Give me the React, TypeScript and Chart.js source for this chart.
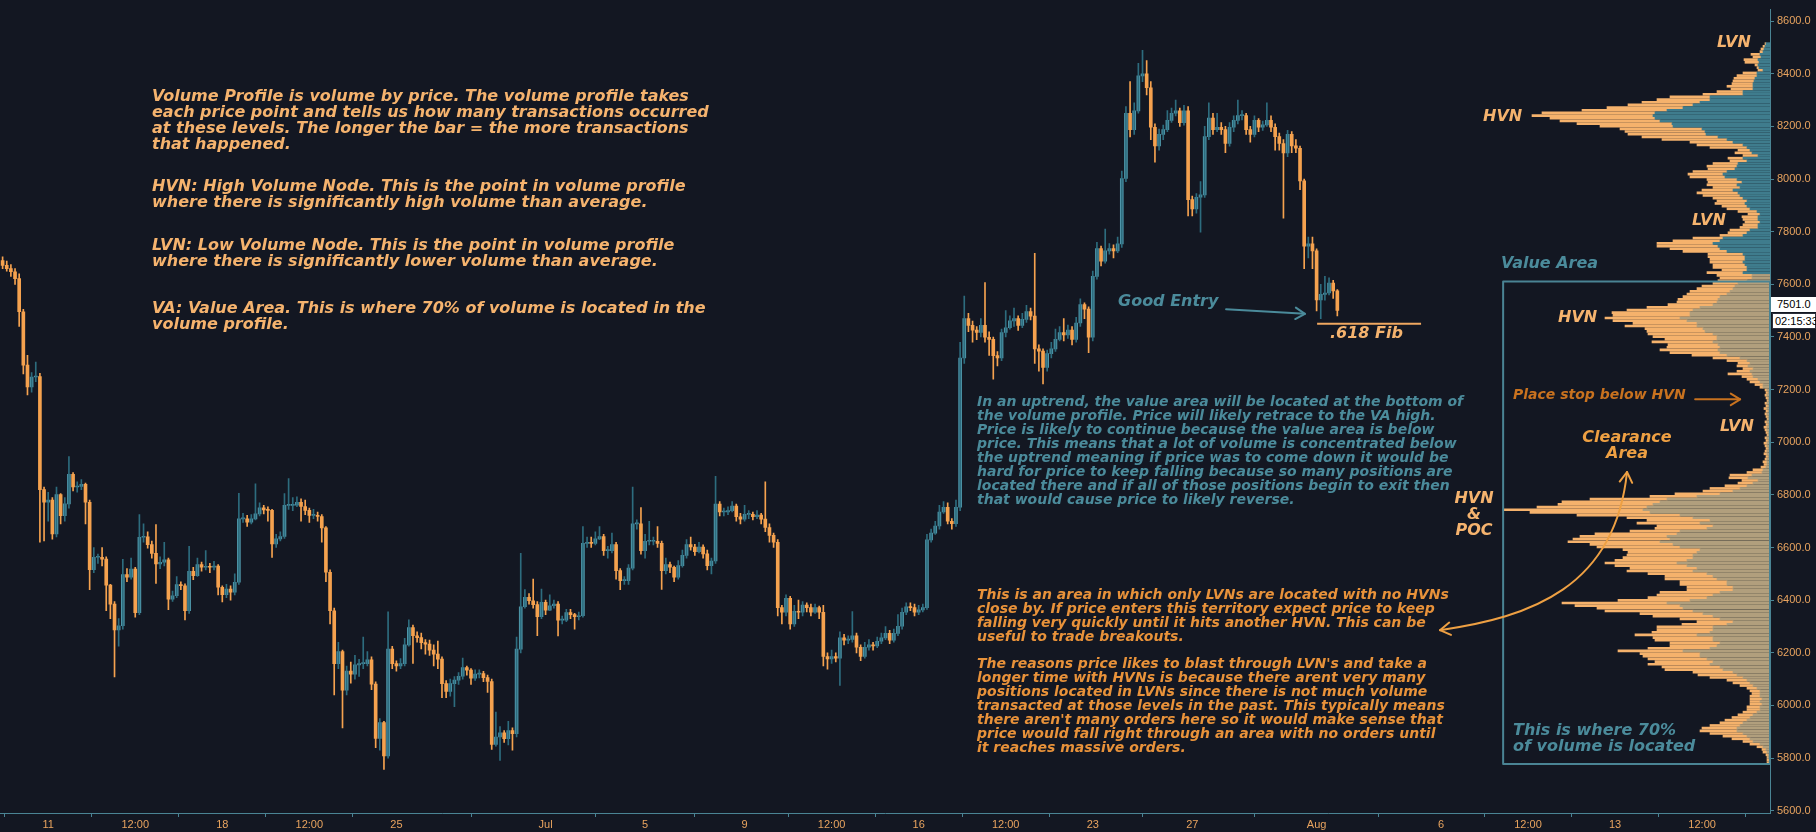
import React, { useEffect, useRef } from 'react';
import { Chart, registerables } from 'chart.js';

Chart.register(...registerables);

// ---------- DATA ----------
// 4h candles, first candle = Jun 9 04:00 ; x unit = days since Jun 11 00:00
const candleStartDay = -11 / 6;
const candleStepDay = 1 / 6;
const firstOpen = 7690;

const closes = [
  7672,7660,7648,7622,7496,7293,7210,7248,7250,6820,
  6772,6780,6652,6801,6721,6766,6878,6830,6832,6840,
  6772,6516,6563,6563,6556,6457,6385,6287,6303,6497,
  6487,6518,6353,6639,6641,6611,6578,6538,6544,6553,
  6404,6417,6459,6455,6360,6510,6493,6535,6525,6527,
  6525,6530,6449,6421,6442,6430,6468,6709,6709,6696,
  6709,6728,6751,6743,6741,6614,6633,6642,6760,6760,
  6761,6772,6756,6741,6722,6722,6718,6675,6506,6360,
  6159,6205,6058,6131,6119,6154,6159,6159,6173,6081,
  5875,5935,5808,6214,6159,6150,6159,6230,6296,6265,
  6258,6239,6233,6210,6195,6176,6083,6053,6083,6096,
  6111,6144,6134,6104,6119,6121,6106,6091,5852,5880,
  5896,5874,5905,5893,6214,6375,6411,6398,6383,6337,
  6392,6362,6379,6385,6324,6324,6353,6345,6337,6341,
  6616,6620,6616,6633,6642,6588,6588,6611,6512,6474,
  6474,6522,6690,6690,6588,6624,6624,6624,6616,6512,
  6535,6525,6487,6531,6570,6611,6602,6584,6602,6576,
  6531,6549,6765,6735,6735,6740,6758,6717,6708,6726,
  6726,6717,6723,6708,6676,6646,6620,6372,6354,6407,
  6310,6358,6354,6381,6372,6354,6372,6354,6186,6177,
  6186,6180,6257,6248,6251,6265,6221,6186,6221,6230,
  6226,6244,6257,6274,6248,6274,6301,6354,6375,6372,
  6354,6363,6372,6629,6655,6682,6735,6753,6700,6691,
  6753,7320,7470,7444,7426,7417,7444,7399,7391,7329,
  7320,7417,7435,7461,7470,7444,7467,7497,7479,7355,
  7346,7284,7337,7355,7391,7417,7408,7426,7391,7453,
  7523,7506,7399,7630,7736,7688,7727,7736,7727,7754,
  8002,8250,8188,8259,8392,8400,8347,8197,8126,8170,
  8188,8223,8250,8259,8214,8259,7922,7887,7931,7940,
  8161,8232,8188,8197,8188,8135,8197,8223,8241,8241,
  8188,8170,8223,8197,8206,8223,8197,8161,8135,8099,
  8170,8126,8117,7993,7745,7754,7727,7541,7562,7567,
  7605,7575,7501,
];

const highs = [
  7705,7688,7675,7660,7640,7505,7330,7265,7305,7262,
  6830,6810,6790,6830,6805,6790,6946,6885,6850,6858,
  6845,6780,6600,6575,6600,6565,6460,6395,6330,6555,
  6520,6560,6525,6725,6690,6660,6625,6687,6565,6620,
  6560,6435,6490,6470,6462,6605,6525,6560,6545,6588,
  6540,6548,6535,6455,6460,6455,6500,6806,6730,6722,
  6725,6842,6770,6760,6755,6745,6650,6660,6805,6862,
  6790,6793,6785,6780,6750,6745,6735,6725,6680,6515,
  6370,6240,6210,6150,6165,6190,6175,6260,6205,6185,
  6090,5950,5940,6356,6225,6170,6178,6255,6325,6305,
  6280,6275,6250,6248,6230,6245,6185,6095,6100,6110,
  6125,6180,6150,6140,6135,6135,6130,6115,6100,5975,
  5920,5905,5940,5915,6260,6578,6440,6425,6480,6395,
  6442,6400,6420,6400,6395,6340,6365,6365,6350,6355,
  6680,6640,6640,6660,6680,6650,6605,6655,6620,6520,
  6490,6535,6830,6705,6752,6650,6700,6640,6680,6625,
  6560,6545,6530,6550,6590,6630,6640,6612,6620,6610,
  6590,6560,6871,6775,6750,6755,6775,6765,6730,6760,
  6740,6735,6740,6730,6850,6690,6655,6630,6380,6420,
  6415,6380,6400,6395,6390,6385,6385,6378,6380,6200,
  6210,6200,6280,6270,6265,6357,6275,6230,6240,6250,
  6240,6260,6275,6300,6285,6290,6345,6370,6390,6390,
  6385,6380,6385,6650,6670,6700,6760,6775,6770,6710,
  6780,7380,7555,7490,7460,7440,7470,7607,7420,7400,
  7345,7430,7500,7480,7510,7480,7490,7520,7510,7718,
  7370,7355,7350,7380,7430,7440,7470,7445,7440,7475,
  7545,7530,7515,7650,7760,7745,7810,7755,7750,7780,
  8030,8275,8370,8290,8440,8489,8450,8370,8210,8190,
  8205,8260,8270,8300,8270,8280,8275,7935,7945,7990,
  8200,8290,8250,8250,8215,8200,8215,8240,8300,8260,
  8250,8200,8240,8230,8220,8290,8240,8210,8175,8150,
  8185,8180,8150,8125,8000,7780,7780,7735,7600,7630,
  7625,7615,7580,
];

const lows = [
  7660,7650,7630,7600,7440,7260,7180,7190,7230,6620,
  6625,6700,6632,6640,6690,6700,6750,6815,6810,6820,
  6690,6440,6505,6540,6530,6360,6330,6108,6225,6290,
  6470,6480,6335,6345,6620,6598,6560,6464,6520,6530,
  6364,6395,6410,6440,6325,6350,6478,6490,6510,6515,
  6505,6515,6420,6393,6410,6400,6420,6460,6695,6680,
  6690,6705,6720,6728,6700,6562,6600,6625,6635,6745,
  6740,6755,6700,6725,6695,6710,6700,6620,6470,6310,
  6040,6140,5915,6040,6085,6100,6110,6140,6150,6060,
  5840,5830,5757,5800,6140,6130,6140,6150,6225,6160,
  6240,6215,6195,6190,6150,6140,6030,6030,6035,5995,
  6080,6100,6115,6080,6095,6105,6090,6050,5833,5845,
  5791,5860,5850,5830,5880,6200,6370,6385,6370,6265,
  6330,6345,6360,6370,6264,6310,6318,6330,6290,6325,
  6335,6600,6600,6610,6630,6570,6560,6580,6480,6440,
  6460,6460,6515,6670,6575,6560,6610,6610,6600,6441,
  6500,6505,6470,6480,6525,6560,6590,6570,6580,6560,
  6515,6500,6540,6720,6720,6725,6735,6700,6690,6700,
  6710,6705,6710,6690,6660,6620,6600,6340,6310,6340,
  6290,6300,6330,6340,6355,6340,6350,6330,6150,6138,
  6160,6165,6076,6230,6235,6240,6200,6170,6180,6210,
  6210,6220,6235,6250,6235,6240,6265,6290,6345,6360,
  6340,6345,6355,6365,6620,6650,6670,6730,6690,6670,
  6680,6740,7300,7420,7380,7390,7400,7380,7330,7240,
  7290,7310,7400,7430,7440,7425,7435,7455,7465,7300,
  7270,7222,7270,7320,7345,7385,7385,7395,7370,7380,
  7440,7470,7340,7385,7620,7670,7680,7715,7700,7720,
  7740,7990,8160,8170,8250,8370,8320,8150,8064,8110,
  8150,8180,8215,8240,8200,8205,7860,7860,7870,7798,
  7930,8150,8170,8180,8170,8100,8125,8180,8210,8225,
  8170,8140,8160,8180,8185,8200,8180,8110,8110,7851,
  8085,8100,8100,7960,7660,7700,7660,7499,7470,7540,
  7560,7547,7480,
];

// x axis ticks (days since Jun 11 00:00)
const tickDays = [0, 3.5, 7, 10.5, 14, 20, 24, 28, 31.5, 35, 38.5, 42, 46, 51, 56, 59.5, 63, 66.5];
const tickLabels = ['11', '12:00', '18', '12:00', '25', 'Jul', '5', '9', '12:00', '16', '12:00', '23', '27', 'Aug', '6', '12:00', '13', '12:00'];
const priceTicks = [5600, 5800, 6000, 6200, 6400, 6600, 6800, 7000, 7200, 7400, 7600, 7800, 8000, 8200, 8400, 8600];

// volume profile: rows of 10 price from 8480 downward
const profileTop = 8480;
const profileStep = 10;
const profileTotal = [
  5,7,9,10,19,17,26,25,15,13,12,
  27,33,36,37,38,43,39,53,67,100,
  113,128,142,163,188,228,238,220,210,193,
  170,150,145,142,128,108,80,73,60,32,
  35,27,42,40,57,63,62,77,82,80,
  63,62,63,57,68,73,67,57,53,55,
  48,43,32,22,28,27,25,27,30,40,
  42,50,77,97,113,113,100,87,62,62,
  60,60,57,57,48,63,53,50,52,57,
  68,73,80,83,87,92,93,102,123,143,
  158,157,165,157,137,145,125,123,122,117,
  105,118,102,103,110,100,78,57,43,32,
  33,27,33,42,28,23,20,15,10,5,
  4,5,4,3,5,4,6,4,5,4,
  3,5,4,6,5,4,3,5,4,6,
  5,4,5,6,4,5,7,6,9,
  17,23,40,41,28,32,45,60,67,95,120,
  180,208,212,233,266,240,193,143,123,133,
  113,115,140,175,190,197,202,180,173,147,
  142,143,147,155,165,155,140,143,122,105,
  105,90,90,83,83,110,113,122,152,208,
  195,173,165,130,117,90,73,88,113,113,
  118,135,117,115,100,100,122,152,130,127,
  122,115,122,108,105,77,72,60,43,37,
  30,23,20,18,20,20,20,20,23,23,
  27,32,38,45,50,60,68,70,60,47,
  38,27,20,13,8,7,4,3,3,3,
];
const profileUp = [
  4,5,6,7,10,9,12,11,12,11,7,
  13,13,15,16,17,17,17,27,27,60,
  60,70,77,87,103,115,117,115,110,98,
  97,68,65,64,52,43,37,27,23,20,
  18,12,27,23,32,33,35,43,47,45,
  33,28,33,30,37,32,30,27,23,25,
  23,20,13,10,12,12,10,12,12,20,
  23,27,47,50,57,52,50,43,27,25,
  25,27,25,23,23,27,18,18,23,32,
  35,37,40,43,50,52,53,57,70,77,
  80,80,90,83,73,73,67,65,57,53,
  53,57,52,50,52,50,43,30,23,20,
  22,17,20,18,17,12,10,7,7,3,
  2,3,2,2,3,2,3,2,3,2,
  2,3,2,3,3,2,2,3,2,3,
  3,2,3,3,2,3,3,3,4,
  7,8,18,22,12,17,23,30,37,50,73,
  103,110,117,123,127,120,90,77,60,70,
  57,63,90,93,103,100,110,97,90,70,
  73,77,77,83,93,83,73,77,63,57,
  53,43,43,37,37,50,57,63,80,103,
  90,87,77,67,57,50,37,43,57,57,
  60,73,57,57,50,53,60,87,70,70,
  63,57,60,50,47,37,33,27,23,20,
  17,13,10,10,10,8,10,8,10,10,
  13,17,20,23,27,30,33,33,27,23,
  20,17,10,7,4,3,2,2,1,1,
];
const valueAreaHigh = 7611;
const valueAreaLow = 5778;
const valueAreaLeftDay = 58.5;

// annotation anchors (day, price)
const goodEntryArrow = { d0: 47.36, p0: 7505, d1: 50.53, p1: 7488 };
const fibLine = { d0: 51.02, d1: 55.2, p: 7450 };
const stopArrow = { d0: 66.22, d1: 68.03, p: 7163 };
const clearanceCurve = { d0: 55.96, p0: 6286, c1d: 59.58, c1p: 6335, c2d: 63.0, c2p: 6447, d1: 63.48, p1: 6887 };

// ---------- STYLE ----------
const W = 1816, H = 832;
const X_MIN = -1.938, X_MAX = 69.23;
const Y_MIN = 5591.4, Y_MAX = 8643.9;
const AXIS_W = 46, AXIS_H = 19;
const BG = '#131722';
const AXIS_LINE = '#4a8494';
const AXIS_TEXT = '#e9a45f';
const UP_BODY = '#4f97aa';
const UP_WICK = '#2d6c7e';
const DOWN = '#f5a24f';
const LIGHT_OR = '#f5b36e';
const TEAL_TXT = '#4b8b9b';
const DARK_OR = '#e8923a';
const STOP_OR = '#c8721f';
const CLEAR_OR = '#eea043';
const PROF_OR = '#f5b26c';
const PROF_TEAL = '#3f7c8d';
const PROF_TAN = '#b19f7d';
const NOTE_FONT = '"DejaVu Sans", Verdana, sans-serif';
const AXIS_FONT = '"Liberation Sans", Arial, sans-serif';

function head(ctx: CanvasRenderingContext2D, x: number, y: number, ang: number, size: number) {
  ctx.beginPath();
  ctx.moveTo(x - size * Math.cos(ang - 0.55), y - size * Math.sin(ang - 0.55));
  ctx.lineTo(x, y);
  ctx.lineTo(x - size * Math.cos(ang + 0.55), y - size * Math.sin(ang + 0.55));
  ctx.stroke();
}

const notesPlugin = {
  id: 'notes',
  afterDraw(chart: any) {
    const { ctx, chartArea } = chart;
    const x = chart.scales.x, y = chart.scales.y;
    ctx.save();
    ctx.lineCap = 'round';
    ctx.lineJoin = 'round';
    // value area box
    const vx0 = x.getPixelForValue(valueAreaLeftDay);
    const vy0 = y.getPixelForValue(valueAreaHigh);
    const vy1 = y.getPixelForValue(valueAreaLow);
    ctx.strokeStyle = AXIS_LINE;
    ctx.lineWidth = 2;
    ctx.strokeRect(vx0, vy0, chartArea.right - vx0, vy1 - vy0);
    // good entry arrow
    {
      const ax0 = x.getPixelForValue(goodEntryArrow.d0), ay0 = y.getPixelForValue(goodEntryArrow.p0);
      const ax1 = x.getPixelForValue(goodEntryArrow.d1), ay1 = y.getPixelForValue(goodEntryArrow.p1);
      ctx.strokeStyle = TEAL_TXT;
      ctx.lineWidth = 2;
      ctx.beginPath(); ctx.moveTo(ax0, ay0); ctx.lineTo(ax1, ay1); ctx.stroke();
      head(ctx, ax1, ay1, Math.atan2(ay1 - ay0, ax1 - ax0), 11);
    }
    // fib line
    {
      const fx0 = x.getPixelForValue(fibLine.d0), fx1 = x.getPixelForValue(fibLine.d1), fy = y.getPixelForValue(fibLine.p);
      ctx.strokeStyle = '#f0a860';
      ctx.lineWidth = 2;
      ctx.lineCap = 'butt';
      ctx.beginPath(); ctx.moveTo(fx0, fy); ctx.lineTo(fx1, fy); ctx.stroke();
      ctx.lineCap = 'round';
    }
    // stop arrow
    {
      const sx0 = x.getPixelForValue(stopArrow.d0), sx1 = x.getPixelForValue(stopArrow.d1), sy = y.getPixelForValue(stopArrow.p);
      ctx.strokeStyle = STOP_OR;
      ctx.lineWidth = 2;
      ctx.beginPath(); ctx.moveTo(sx0, sy); ctx.lineTo(sx1, sy); ctx.stroke();
      head(ctx, sx1, sy, 0, 11);
    }
    // clearance curve
    {
      const c = clearanceCurve;
      const p0x = x.getPixelForValue(c.d0), p0y = y.getPixelForValue(c.p0);
      const c1x = x.getPixelForValue(c.c1d), c1y = y.getPixelForValue(c.c1p);
      const c2x = x.getPixelForValue(c.c2d), c2y = y.getPixelForValue(c.c2p);
      const p1x = x.getPixelForValue(c.d1), p1y = y.getPixelForValue(c.p1);
      ctx.strokeStyle = CLEAR_OR;
      ctx.lineWidth = 2;
      ctx.beginPath(); ctx.moveTo(p0x, p0y); ctx.bezierCurveTo(c1x, c1y, c2x, c2y, p1x, p1y); ctx.stroke();
      head(ctx, p1x, p1y, Math.atan2(p1y - c2y, p1x - c2x), 12);
      head(ctx, p0x, p0y, Math.atan2(p0y - c1y, p0x - c1x), 12);
    }
    ctx.restore();
  },
};

type NoteProps = { left: number; top: number; size: number; lh: number; color: string; text: string; align?: 'left' | 'center'; width?: number };
function Note({ left, top, size, lh, color, text, align = 'left', width }: NoteProps) {
  return (
    <div
      style={{
        position: 'absolute', left, top, width, fontFamily: NOTE_FONT, fontWeight: 'bold', fontStyle: 'italic',
        fontSize: size, lineHeight: `${lh}px`, color, whiteSpace: 'pre', textAlign: align, pointerEvents: 'none',
      }}
    >
      {text}
    </div>
  );
}

export default function App() {
  const mainRef = useRef<HTMLCanvasElement | null>(null);
  const profRef = useRef<HTMLCanvasElement | null>(null);

  useEffect(() => {
    const opens = closes.map((c, i) => (i === 0 ? firstOpen : closes[i - 1]));
    const times = closes.map((_, i) => candleStartDay + i * candleStepDay);
    const isUp = closes.map((c, i) => c >= opens[i]);

    const main = new Chart(mainRef.current as HTMLCanvasElement, {
      type: 'bar',
      data: {
        datasets: [
          {
            data: times.map((t, i) => ({ x: t, y: [lows[i], highs[i]] })) as any,
            backgroundColor: isUp.map((u) => (u ? UP_WICK : DOWN)),
            barThickness: 1,
            grouped: false,
            minBarLength: 1,
          } as any,
          {
            data: times.map((t, i) => ({ x: t, y: [Math.min(opens[i], closes[i]), Math.max(opens[i], closes[i])] })) as any,
            backgroundColor: isUp.map((u) => (u ? UP_BODY : DOWN)),
            barThickness: 3,
            grouped: false,
            minBarLength: 1,
          } as any,
        ],
      },
      options: {
        animation: false,
        responsive: false,
        maintainAspectRatio: false,
        layout: { padding: 0 },
        plugins: { legend: { display: false }, tooltip: { enabled: false } },
        scales: {
          x: {
            type: 'linear',
            min: X_MIN,
            max: X_MAX,
            offset: false,
            afterBuildTicks: (s: any) => { s.ticks = tickDays.map((v) => ({ value: v })); },
            afterFit: (s: any) => { s.height = AXIS_H; },
            ticks: {
              autoSkip: false, maxRotation: 0, color: AXIS_TEXT, padding: 1,
              font: { family: AXIS_FONT, size: 11 },
              callback: (_v: any, i: number) => tickLabels[i],
            },
            grid: { display: true, drawOnChartArea: false, drawTicks: true, tickLength: 4, color: AXIS_LINE },
            border: { display: true, color: AXIS_LINE, width: 1 },
          } as any,
          y: {
            type: 'linear',
            position: 'right',
            min: Y_MIN,
            max: Y_MAX,
            offset: false,
            afterBuildTicks: (s: any) => { s.ticks = priceTicks.map((v) => ({ value: v })); },
            afterFit: (s: any) => { s.width = AXIS_W; },
            ticks: {
              color: AXIS_TEXT, padding: 3, font: { family: AXIS_FONT, size: 11 },
              callback: (v: any) => Number(v).toFixed(1),
            },
            grid: { display: true, drawOnChartArea: false, drawTicks: true, tickLength: 4, color: AXIS_LINE },
            border: { display: true, color: AXIS_LINE, width: 1 },
          } as any,
        },
      },
      plugins: [notesPlugin],
    });

    const rowPrices = profileTotal.map((_, k) => profileTop - k * profileStep);
    const prof = new Chart(profRef.current as HTMLCanvasElement, {
      type: 'bar',
      data: {
        datasets: [
          {
            data: rowPrices.map((p, k) => ({ y: p, x: [0, profileUp[k]] })) as any,
            backgroundColor: rowPrices.map((p) => (p <= valueAreaHigh ? PROF_TAN : PROF_TEAL)),
            barThickness: 2,
            grouped: false,
          } as any,
          {
            data: rowPrices.map((p, k) => ({ y: p, x: [profileUp[k], profileTotal[k]] })) as any,
            backgroundColor: PROF_OR,
            barThickness: 2,
            grouped: false,
          } as any,
        ],
      },
      options: {
        indexAxis: 'y',
        animation: false,
        responsive: false,
        maintainAspectRatio: false,
        layout: { padding: { left: 0, top: 0, right: AXIS_W, bottom: AXIS_H } },
        plugins: { legend: { display: false }, tooltip: { enabled: false } },
        scales: {
          x: { type: 'linear', min: 0, max: W - AXIS_W, reverse: true, display: false, offset: false },
          y: { type: 'linear', min: Y_MIN, max: Y_MAX, display: false, offset: false },
        } as any,
      },
    });

    return () => { main.destroy(); prof.destroy(); };
  }, []);

  return (
    <div style={{ position: 'fixed', left: 0, top: 0, width: W, height: H, background: BG, overflow: 'hidden' }}>
      <canvas ref={profRef} width={W} height={H} style={{ position: 'absolute', left: 0, top: 0 }} />
      <canvas ref={mainRef} width={W} height={H} style={{ position: 'absolute', left: 0, top: 0 }} />

      <Note left={152} top={88} size={16} lh={16} color={LIGHT_OR}
        text={'Volume Profile is volume by price. The volume profile takes\neach price point and tells us how many transactions occurred\nat these levels. The longer the bar = the more transactions\nthat happened.'} />
      <Note left={152} top={178} size={16} lh={16} color={LIGHT_OR}
        text={'HVN: High Volume Node. This is the point in volume profile\nwhere there is significantly high volume than average.'} />
      <Note left={152} top={237} size={16} lh={16} color={LIGHT_OR}
        text={'LVN: Low Volume Node. This is the point in volume profile\nwhere there is significantly lower volume than average.'} />
      <Note left={152} top={300} size={16} lh={16} color={LIGHT_OR}
        text={'VA: Value Area. This is where 70% of volume is located in the\nvolume profile.'} />

      <Note left={977} top={394} size={14} lh={14} color={TEAL_TXT}
        text={'In an uptrend, the value area will be located at the bottom of\nthe volume profile. Price will likely retrace to the VA high.\nPrice is likely to continue because the value area is below\nprice. This means that a lot of volume is concentrated below\nthe uptrend meaning if price was to come down it would be\nhard for price to keep falling because so many positions are\nlocated there and if all of those positions begin to exit then\nthat would cause price to likely reverse.'} />

      <Note left={977} top={587} size={14} lh={14} color={DARK_OR}
        text={'This is an area in which only LVNs are located with no HVNs\nclose by. If price enters this territory expect price to keep\nfalling very quickly until it hits another HVN. This can be\nuseful to trade breakouts.'} />
      <Note left={977} top={656} size={14} lh={14} color={DARK_OR}
        text={"The reasons price likes to blast through LVN's and take a\nlonger time with HVNs is because there arent very many\npositions located in LVNs since there is not much volume\ntransacted at those levels in the past. This typically means\nthere aren't many orders here so it would make sense that\nprice would fall right through an area with no orders until\nit reaches massive orders."} />

      <Note left={1118} top={292} size={16} lh={18} color={TEAL_TXT} text={'Good Entry'} />
      <Note left={1330} top={324} size={16} lh={18} color={LIGHT_OR} text={'.618 Fib'} />

      <Note left={1717} top={33} size={16} lh={18} color={LIGHT_OR} text={'LVN'} />
      <Note left={1483} top={107} size={16} lh={18} color={LIGHT_OR} text={'HVN'} />
      <Note left={1692} top={211} size={16} lh={18} color={LIGHT_OR} text={'LVN'} />
      <Note left={1501} top={254} size={16} lh={18} color={TEAL_TXT} text={'Value Area'} />
      <Note left={1558} top={308} size={16} lh={18} color={LIGHT_OR} text={'HVN'} />
      <Note left={1513} top={386} size={14} lh={16} color={STOP_OR} text={'Place stop below HVN'} />
      <Note left={1720} top={417} size={16} lh={18} color={LIGHT_OR} text={'LVN'} />
      <Note left={1577} top={429} size={16} lh={16} color={CLEAR_OR} align="center" width={100} text={'Clearance\nArea'} />
      <Note left={1444} top={490} size={16} lh={16} color={LIGHT_OR} align="center" width={60} text={'HVN\n&\nPOC'} />
      <Note left={1513} top={722} size={16} lh={16} color={TEAL_TXT} text={'This is where 70%\nof volume is located'} />

      <div style={{ position: 'absolute', left: 1771, top: 297, width: 45, height: 15, background: '#ffffff', color: '#000', fontFamily: AXIS_FONT, fontSize: 11, lineHeight: '15px', paddingLeft: 6, boxSizing: 'border-box' }}>7501.0</div>
      <div style={{ position: 'absolute', left: 1772, top: 313, width: 44, height: 16, background: '#ffffff', color: '#000', fontFamily: AXIS_FONT, fontSize: 11, lineHeight: '14px', paddingLeft: 2, border: '1px solid #2a2e39', boxSizing: 'border-box' }}>02:15:33</div>
    </div>
  );
}
